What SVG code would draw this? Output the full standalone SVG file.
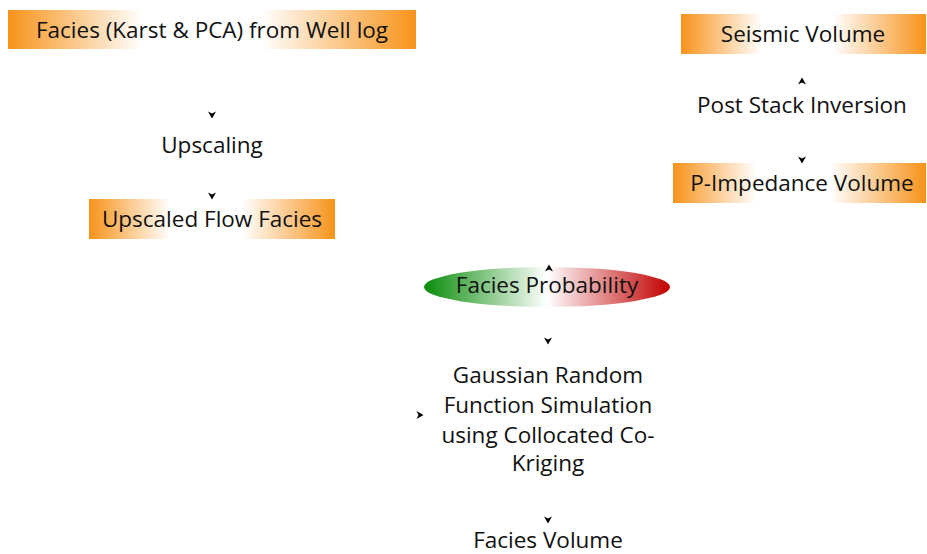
<svg xmlns="http://www.w3.org/2000/svg" width="927" height="554" viewBox="0 0 927 554">
<defs>
<linearGradient id="og" x1="0" y1="0" x2="1" y2="0">
<stop offset="0" stop-color="#F7931A"/>
<stop offset="0.33" stop-color="#FFFFFF"/>
<stop offset="0.62" stop-color="#FFFFFF"/>
<stop offset="1" stop-color="#F7931A"/>
</linearGradient>
<linearGradient id="gr" x1="0" y1="0" x2="1" y2="0">
<stop offset="0" stop-color="#0A8C0A"/>
<stop offset="0.5" stop-color="#FFFFFF"/>
<stop offset="1" stop-color="#C00000"/>
</linearGradient>
<path id="ah" d="M-4,-3.5 L0,3.5 L4,-3.5 L0,-1.5 Z" fill="#000"/>
</defs>
<style>
text{font-family:"Open Sans","DejaVu Sans",sans-serif;font-size:22.5px;fill:#111;text-anchor:middle;dominant-baseline:central}
.box{fill:url(#og)}
</style>
<g id="n1"><rect class="box" x="8" y="10" width="408" height="39"/><text x="212" y="29">Facies (Karst &amp; PCA) from Well log</text></g>
<g id="n2"><text x="212" y="144">Upscaling</text></g>
<g id="n3"><rect class="box" x="89" y="199" width="246" height="40"/><text x="212" y="218">Upscaled Flow Facies</text></g>
<g id="n4"><rect class="box" x="681" y="14" width="245" height="40"/><text x="803" y="33">Seismic Volume</text></g>
<g id="n5"><text x="802" y="104">Post Stack Inversion</text></g>
<g id="n6"><rect class="box" x="673" y="163" width="253" height="40"/><text x="802" y="182">P-Impedance Volume</text></g>
<g id="n7"><ellipse cx="547" cy="287" rx="123" ry="20" fill="url(#gr)"/><text x="547" y="284">Facies Probability</text></g>
<g id="n8"><text x="548" y="374">Gaussian Random</text><text x="548" y="404">Function Simulation</text><text x="548" y="434">using Collocated Co-</text><text x="548" y="462">Kriging</text></g>
<g id="n9"><text x="548" y="539">Facies Volume</text></g>
<g id="connectors">
<use href="#ah" x="212" y="115"/>
<use href="#ah" x="212" y="196"/>
<use href="#ah" transform="translate(802,81) rotate(180)"/>
<use href="#ah" x="802" y="160"/>
<use href="#ah" transform="translate(549,268) rotate(180)"/>
<use href="#ah" x="548" y="341"/>
<use href="#ah" transform="translate(420,415) rotate(-90)"/>
<use href="#ah" x="548" y="520"/>
</g>
</svg>
